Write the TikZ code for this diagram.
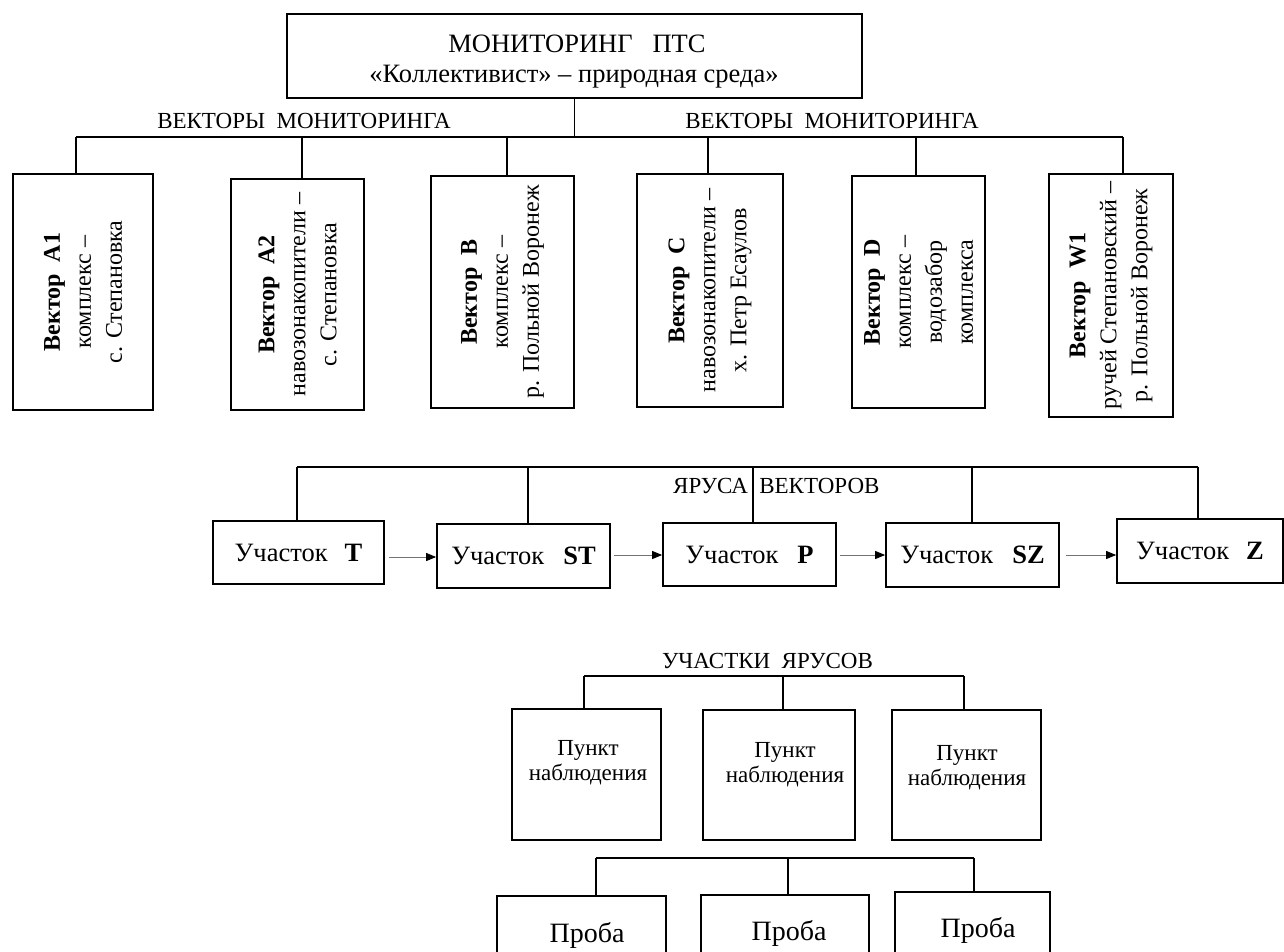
\documentclass[tikz,border=0pt]{standalone}
\usepackage{fontspec}
\setmainfont{Liberation Serif}
\usetikzlibrary{arrows.meta}
\begin{document}
\begin{tikzpicture}[x=1pt,y=-1pt,
  box/.style={draw, line width=1.7pt, inner sep=0pt},
  bus/.style={line width=1.8pt},
  drop/.style={line width=1.4pt},
  arr/.style={line width=0.9pt, draw=black!55, -{Triangle[length=10pt,width=8pt,color=black]}},
  ftop/.style={font=\fontsize{26.5}{30}\selectfont, inner sep=0pt},
  flab/.style={font=\fontsize{23}{26}\selectfont, inner sep=0pt},
  fvec/.style={font=\fontsize{24}{31}\selectfont, rotate=90, align=center, inner sep=0pt},
  ftier/.style={font=\fontsize{26.5}{30}\selectfont},
  fpunkt/.style={font=\fontsize{23}{25}\selectfont, inner sep=0pt},
  fproba/.style={font=\fontsize{28}{30}\selectfont, inner sep=0pt}]
\useasboundingbox (0,0) rectangle (1284,951);
\clip (0,0) rectangle (1284,951);

% top box
\node[box, minimum width=575pt, minimum height=84pt] (top) at (574.5,56) {};
\node[ftop, anchor=base] (topa) at (577,52) {МОНИТОРИНГ\hspace{20pt}ПТС};
\node[ftop, anchor=base] (topb) at (574,82) {«Коллективист» – природная среда»};

\node[flab, anchor=base] (lvl) at (304,128) {ВЕКТОРЫ\ \ МОНИТОРИНГА};
\node[flab, anchor=base] (lvr) at (832,128) {ВЕКТОРЫ\ \ МОНИТОРИНГА};

% vector boxes
\node[box, minimum width=140pt, minimum height=236pt] (A1) at (83,292) {};
\node[box, minimum width=133pt, minimum height=231pt] (A2) at (297.5,294.5) {};
\node[box, minimum width=143pt, minimum height=232pt] (B) at (502.5,292) {};
\node[box, minimum width=146pt, minimum height=233pt] (C) at (710,290.5) {};
\node[box, minimum width=133pt, minimum height=232pt] (D) at (918.5,292) {};
\node[box, minimum width=124pt, minimum height=243pt] (W1) at (1111,295.5) {};

\node[fvec] (tA1) at (A1.center) {\textbf{Вектор\ \ A1}\\комплекс –\\с. Степановка};
\node[fvec] (tA2) at (A2.center) {\textbf{Вектор\ \ A2}\\навозонакопители –\\с. Степановка};
\node[fvec] (tB) at (B.center) {\textbf{Вектор\ \ B}\\комплекс –\\р. Польной Воронеж};
\node[fvec] (tC) at (C.center) {\textbf{Вектор\ \ C}\\навозонакопители –\\х. Петр Есаулов};
\node[fvec] (tD) at (D.center) {\textbf{Вектор\ \ D}\\комплекс –\\водозабор\\комплекса};
\node[fvec] (tW1) at (W1.center) {\textbf{Вектор\ \ W1}\\ручей Степановский –\\р. Польной Воронеж};

\coordinate (vA1) at (76,137);
\coordinate (vA2) at (302,137);
\coordinate (vB) at (507,137);
\coordinate (vC) at (708,137);
\coordinate (vD) at (916,137);
\coordinate (vW1) at (1123,137);
\draw[bus] (vA1) -- (vW1);
\draw[bus] (top.south) -- (top.south |- vA1);
\draw[drop] (vA1) -- (vA1 |- A1.north);
\draw[drop] (vA2) -- (vA2 |- A2.north);
\draw[drop] (vB) -- (vB |- B.north);
\draw[drop] (vC) -- (vC |- C.north);
\draw[drop] (vD) -- (vD |- D.north);
\draw[drop] (vW1) -- (vW1 |- W1.north);

% tiers
\node[box, ftier, minimum width=171pt, minimum height=63pt] (T) at (298.5,552.5) {Участок\hspace{17pt}\textbf{T}};
\node[box, ftier, minimum width=173pt, minimum height=64pt] (ST) at (523.5,556) {Участок\hspace{19pt}\textbf{ST}};
\node[box, ftier, minimum width=173pt, minimum height=63pt] (P) at (749.5,554.5) {Участок\hspace{19pt}\textbf{P}};
\node[box, ftier, minimum width=173pt, minimum height=64pt] (SZ) at (972.5,555) {Участок\hspace{19pt}\textbf{SZ}};
\node[box, ftier, minimum width=166pt, minimum height=64pt] (Z) at (1200,551) {Участок\hspace{17pt}\textbf{Z}};

\coordinate (tT) at (297,467);
\coordinate (tST) at (528,467);
\coordinate (tP) at (753,467);
\coordinate (tSZ) at (972,467);
\coordinate (tZ) at (1198,467);
\draw[bus] (tT) -- (tZ);
\draw[drop] (tT) -- (tT |- T.north);
\draw[drop] (tST) -- (tST |- ST.north);
\draw[drop] (tP) -- (tP |- P.north);
\draw[drop] (tSZ) -- (tSZ |- SZ.north);
\draw[drop] (tZ) -- (tZ |- Z.north);
\node[flab, anchor=base west] (yv) at (673,493) {ЯРУСА\ \ ВЕКТОРОВ};

\coordinate (aT) at (389,557);
\coordinate (aST) at (614,555);
\coordinate (aP) at (840,555);
\coordinate (aSZ) at (1066,555);
\draw[arr] (aT) -- (aT -| ST.west);
\draw[arr] (aST) -- (aST -| P.west);
\draw[arr] (aP) -- (aP -| SZ.west);
\draw[arr] (aSZ) -- (aSZ -| Z.west);

% sections
\node[flab, anchor=base west] (uy) at (662,668) {УЧАСТКИ\ \ ЯРУСОВ};
\node[box, minimum width=149pt, minimum height=131pt] (p1) at (586.5,774.5) {};
\node[box, minimum width=152pt, minimum height=130pt] (p2) at (779,775) {};
\node[box, minimum width=149pt, minimum height=130pt] (p3) at (966.5,775) {};
\node[fpunkt, anchor=base] (p1a) at (588,755) {Пункт};
\node[fpunkt, anchor=base] (p1b) at (588,780) {наблюдения};
\node[fpunkt, anchor=base] (p2a) at (785,757) {Пункт};
\node[fpunkt, anchor=base] (p2b) at (785,782) {наблюдения};
\node[fpunkt, anchor=base] (p3a) at (967,760) {Пункт};
\node[fpunkt, anchor=base] (p3b) at (967,785) {наблюдения};

\coordinate (s1) at (584,676);
\coordinate (s2) at (783,676);
\coordinate (s3) at (964,676);
\draw[bus] (s1) -- (s3);
\draw[drop] (s1) -- (s1 |- p1.north);
\draw[drop] (s2) -- (s2 |- p2.north);
\draw[drop] (s3) -- (s3 |- p3.north);

% samples
\node[box, minimum width=169pt, minimum height=104pt] (q1) at (581.5,948) {};
\node[box, minimum width=168pt, minimum height=105pt] (q2) at (785,947.5) {};
\node[box, minimum width=155pt, minimum height=108pt] (q3) at (972.5,946) {};
\node[fproba, anchor=base] (q1t) at (587,942) {Проба};
\node[fproba, anchor=base] (q2t) at (789,940) {Проба};
\node[fproba, anchor=base] (q3t) at (978,937) {Проба};

\coordinate (r1) at (596,858);
\coordinate (r2) at (788,858);
\coordinate (r3) at (974,858);
\draw[bus] (r1) -- (r3);
\draw[drop] (r1) -- (r1 |- q1.north);
\draw[drop] (r2) -- (r2 |- q2.north);
\draw[drop] (r3) -- (r3 |- q3.north);
\end{tikzpicture}
\end{document}
